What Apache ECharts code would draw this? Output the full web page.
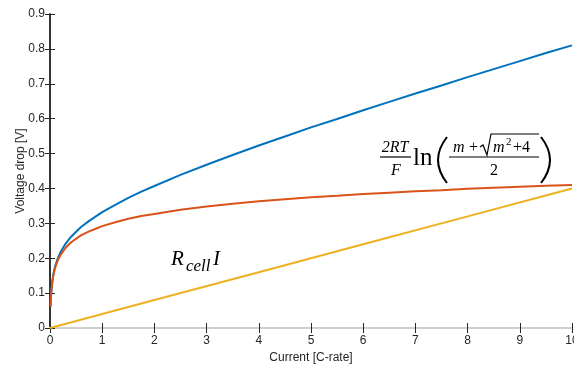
<!DOCTYPE html>
<html>
<head>
<meta charset="utf-8">
<script src="https://cdn.jsdelivr.net/npm/echarts@6/dist/echarts.min.js"></script>
<style>
  html, body { margin: 0; padding: 0; background: #fff; }
  .chart { width: 574px; height: 374px; }
</style>
</head>
<body>
<div class="chart"></div>
<script>
// current [C-rate] sampled along the curves
var currentX = [0.01, 0.02, 0.03, 0.05, 0.07, 0.1, 0.15, 0.2, 0.3, 0.4, 0.5, 0.6, 0.75, 0.9, 1, 1.25, 1.5, 1.75, 2, 2.5, 3, 3.5, 4, 4.5, 5, 5.5, 6, 6.5, 7, 7.5, 8, 8.5, 9, 9.5, 10];
// total voltage drop (blue)
var totalDrop = [0.061, 0.093, 0.113, 0.140, 0.158, 0.178, 0.200, 0.217, 0.242, 0.261, 0.276, 0.290, 0.307, 0.322, 0.332, 0.353, 0.373, 0.391, 0.407, 0.439, 0.468, 0.496, 0.523, 0.549, 0.575, 0.599, 0.624, 0.648, 0.672, 0.695, 0.719, 0.742, 0.765, 0.788, 0.810];
// kinetic drop 2RT/F ln(...) (orange)
var kineticDrop = [0.060, 0.092, 0.112, 0.138, 0.155, 0.174, 0.194, 0.209, 0.230, 0.245, 0.256, 0.266, 0.277, 0.286, 0.292, 0.303, 0.313, 0.321, 0.327, 0.339, 0.348, 0.356, 0.363, 0.369, 0.375, 0.379, 0.384, 0.388, 0.392, 0.395, 0.399, 0.402, 0.405, 0.408, 0.410];
// ohmic drop R_cell I (yellow)
var ohmicX = [0, 2, 4, 6, 8, 10];
var ohmicDrop = [0, 0.08, 0.16, 0.24, 0.32, 0.40];

function pairs(xs, ys) {
  var out = [];
  for (var i = 0; i < xs.length; i++) out.push([xs[i], ys[i]]);
  return out;
}

(function() {
  var myChart = echarts.init(document.querySelector(".chart"));
  var dark = '#262626';
  var light = '#d0d0d0';
  var mathFont = '"Liberation Serif", "DejaVu Serif", serif';

  option = {
    animation: false,
    grid: { left: 50, right: 2, top: 14, bottom: 46, outerBoundsMode: 'none', containLabel: false },
    textStyle: { fontFamily: '"Liberation Sans", Arial, sans-serif' },
    xAxis: [
      {
        type: 'value', min: 0, max: 10, interval: 1,
        name: 'Current [C-rate]', nameLocation: 'middle', nameGap: 24, nameMoveOverlap: false,
        nameTextStyle: { color: dark, fontSize: 12 },
        axisLine: { lineStyle: { color: light, width: 2 } },
        axisTick: { inside: true, length: 5, lineStyle: { color: dark } },
        axisLabel: { color: dark, fontSize: 12, margin: 7 },
        splitLine: { show: false }
      },
      {
        type: 'value', min: 0, max: 10, interval: 1, position: 'top',
        axisLine: { lineStyle: { color: light, width: 2 } },
        axisTick: { inside: true, length: 5, lineStyle: { color: dark } },
        axisLabel: { show: false },
        splitLine: { show: false }
      }
    ],
    yAxis: [
      {
        type: 'value', min: 0, max: 0.9, interval: 0.1,
        name: 'Voltage drop [V]', nameLocation: 'middle', nameGap: 23, nameMoveOverlap: false,
        nameTextStyle: { color: dark, fontSize: 12 },
        axisLine: { show: true, lineStyle: { color: dark, width: 1.5 } },
        axisTick: { show: true, inside: true, length: 5, lineStyle: { color: dark } },
        axisLabel: { color: dark, fontSize: 12, margin: 5 },
        splitLine: { show: false }
      },
      {
        type: 'value', min: 0, max: 0.9, interval: 0.1, position: 'right',
        axisLine: { show: true, lineStyle: { color: dark, width: 1.5 } },
        axisTick: { show: true, inside: true, length: 5, lineStyle: { color: dark } },
        axisLabel: { show: false },
        splitLine: { show: false }
      }
    ],
    series: [
      {
        type: 'line', data: pairs(currentX, totalDrop),
        showSymbol: false,
        lineStyle: { color: '#0072BD', width: 2 }
      },
      {
        type: 'line', data: pairs(currentX, kineticDrop),
        showSymbol: false,
        lineStyle: { color: '#D95319', width: 2 }
      },
      {
        type: 'line', data: pairs(ohmicX, ohmicDrop),
        showSymbol: false,
        lineStyle: { color: '#EDB120', width: 2 }
      }
    ],
    graphic: [
      // R_cell I
      { type: 'text', left: 171, top: 249, style: { text: 'R', font: 'italic 21px ' + mathFont, fill: '#000' } },
      { type: 'text', left: 186, top: 258, style: { text: 'cell', font: 'italic 17px ' + mathFont, fill: '#000' } },
      { type: 'text', left: 213, top: 249, style: { text: 'I', font: 'italic 21px ' + mathFont, fill: '#000' } },
      // 2RT / F
      { type: 'text', x: 395, y: 148, style: { text: '2RT', font: 'italic 16px ' + mathFont, fill: '#000', align: 'center', verticalAlign: 'middle' } },
      { type: 'line', shape: { x1: 380, y1: 157, x2: 411, y2: 157 }, style: { stroke: '#000', lineWidth: 1.2 } },
      { type: 'text', x: 396, y: 171, style: { text: 'F', font: 'italic 16px ' + mathFont, fill: '#000', align: 'center', verticalAlign: 'middle' } },
      // ln
      { type: 'text', x: 413, y: 158, style: { text: 'ln', font: '25px ' + mathFont, fill: '#000', verticalAlign: 'middle' } },
      // parentheses
      { type: 'bezierCurve', shape: { x1: 447, y1: 137, cpx1: 429, cpy1: 160, x2: 447, y2: 183 }, style: { stroke: '#000', lineWidth: 2, fill: null } },
      { type: 'bezierCurve', shape: { x1: 541, y1: 137, cpx1: 559, cpy1: 160, x2: 541, y2: 183 }, style: { stroke: '#000', lineWidth: 2, fill: null } },
      // numerator m + sqrt(m^2 + 4)
      { type: 'text', x: 453, y: 148, style: { text: 'm', font: 'italic 16px ' + mathFont, fill: '#000', verticalAlign: 'middle' } },
      { type: 'text', x: 469, y: 148, style: { text: '+', font: '16px ' + mathFont, fill: '#000', verticalAlign: 'middle' } },
      { type: 'polyline', shape: { points: [[480, 147], [483, 145], [487, 155], [491, 134], [539, 134]] }, style: { stroke: '#000', lineWidth: 1.2, fill: null } },
      { type: 'text', x: 493, y: 148, style: { text: 'm', font: 'italic 16px ' + mathFont, fill: '#000', verticalAlign: 'middle' } },
      { type: 'text', x: 506, y: 142, style: { text: '2', font: '11px ' + mathFont, fill: '#000', verticalAlign: 'middle' } },
      { type: 'text', x: 513, y: 148, style: { text: '+4', font: '16px ' + mathFont, fill: '#000', verticalAlign: 'middle' } },
      { type: 'line', shape: { x1: 449, y1: 157, x2: 539, y2: 157 }, style: { stroke: '#000', lineWidth: 1.2 } },
      { type: 'text', x: 494, y: 171, style: { text: '2', font: '16px ' + mathFont, fill: '#000', align: 'center', verticalAlign: 'middle' } }
    ]
  };
  myChart.setOption(option);
  window.addEventListener("resize", function() {
    myChart.resize();
  });
})();
</script>
</body>
</html>
